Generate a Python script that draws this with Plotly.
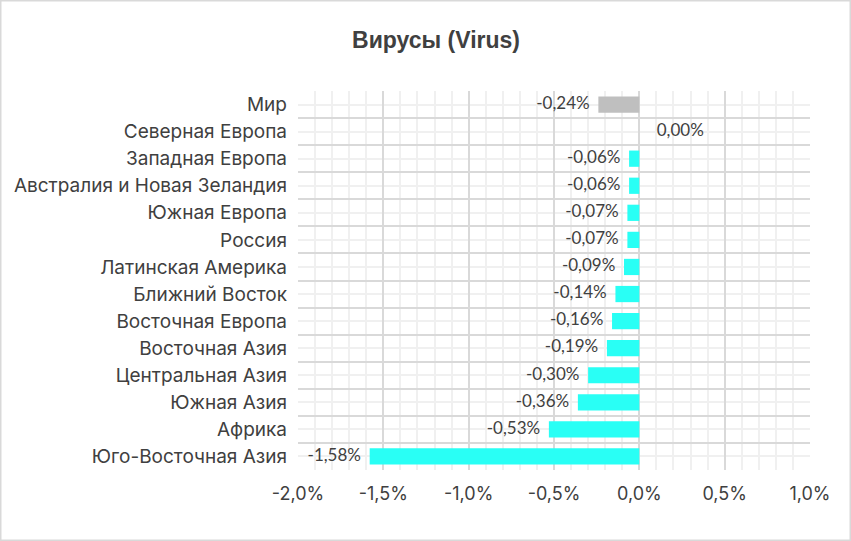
import plotly.graph_objects as go

categories = ["Мир", "Северная Европа", "Западная Европа", "Австралия и Новая Зеландия",
              "Южная Европа", "Россия", "Латинская Америка", "Ближний Восток",
              "Восточная Европа", "Восточная Азия", "Центральная Азия", "Южная Азия",
              "Африка", "Юго-Восточная Азия"]
values_pct = [-0.24, 0.00, -0.06, -0.06, -0.07, -0.07, -0.09, -0.14,
              -0.16, -0.19, -0.30, -0.36, -0.53, -1.58]
x_ticks_pct = [-2.0, -1.5, -1.0, -0.5, 0.0, 0.5, 1.0]

W, H = 851, 541
L, R, T, B = 298, 41, 91, 71
plot_w = W - L - R
plot_h = H - T - B

vals = [v / 100 for v in values_pct]
pos = list(range(len(categories)))
bar_colors = ["#BFBFBF"] + ["#29FFF5"] * (len(categories) - 1)

labels = []
for v in values_pct:
    s = "{:.2f}%".format(v).replace(".", ",")
    labels.append(s + "  " if v < 0 else "    " + s)

fig = go.Figure()
fig.add_trace(go.Bar(x=vals, y=pos, orientation="h", width=0.6,
                     marker=dict(color=bar_colors, line=dict(width=0)),
                     hoverinfo="skip", showlegend=False))
fig.add_trace(go.Scatter(x=vals, y=pos, yaxis="y2", mode="text", text=labels,
                         textposition=["middle left" if v < 0 else "middle right" for v in values_pct],
                         textfont=dict(family="Lato", size=17, color="#404040"),
                         hoverinfo="skip", showlegend=False))

yr = [len(categories) - 0.5, -0.5]
fig.update_layout(
    width=W, height=H,
    margin=dict(l=L, r=R, t=T, b=B, pad=0),
    paper_bgcolor="white", plot_bgcolor="white",
    separators=", ",
    title=dict(text="<b>Вирусы (Virus)</b>", x=436 / W, xanchor="center",
               y=1 - 40 / H, yanchor="middle",
               font=dict(family="Liberation Sans", size=23, color="#404040")),
    xaxis=dict(range=[-0.02, 0.01], tickmode="array", tickvals=[v / 100 for v in x_ticks_pct],
               ticktext=["{:.1f}%".format(v).replace(".", ",") for v in x_ticks_pct],
               showgrid=True, gridcolor="#D9D9D9", gridwidth=1.5, zeroline=False,
               showline=False, ticks="", ticklabelstandoff=11,
               tickfont=dict(family="Inter", size=18, color="#404040"),
               minor=dict(tick0=0, dtick=0.001, showgrid=True, gridcolor="#F0F0F0", gridwidth=1.5)),
    yaxis=dict(range=yr, tickmode="array", tickvals=[i - 0.5 for i in range(len(categories) + 1)],
               ticktext=[""] * (len(categories) + 1), showgrid=True, gridcolor="#D9D9D9",
               gridwidth=1.5, zeroline=False, showline=False, ticks="",
               minor=dict(tick0=0, dtick=1, showgrid=True, gridcolor="#F0F0F0", gridwidth=1.5)),
    yaxis2=dict(range=yr, overlaying="y", side="left", matches="y", tickmode="array",
                tickvals=pos, ticktext=categories, showgrid=False, zeroline=False,
                ticks="", ticklabelstandoff=10,
                tickfont=dict(family="Inter", size=19, color="#404040")),
)
fig.add_shape(type="rect", xref="paper", yref="paper",
              x0=(0.75 - L) / plot_w, x1=(W - 0.75 - L) / plot_w,
              y0=-(B - 0.75) / plot_h, y1=(plot_h + T - 0.75) / plot_h,
              line=dict(color="#D9D9D9", width=1.5), fillcolor="rgba(0,0,0,0)", layer="below")
fig.write_html("out.html", config={"displayModeBar": False},
               post_script="document.body.style.margin='0';document.body.style.padding='0';")
